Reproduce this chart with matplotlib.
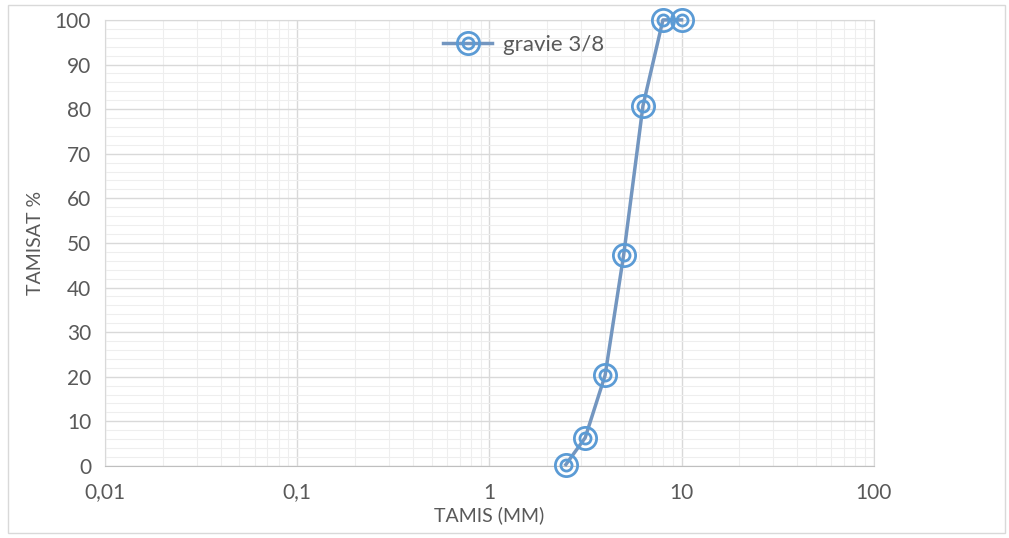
import matplotlib.pyplot as plt
import numpy as np
from matplotlib.ticker import FixedLocator, LogLocator, MultipleLocator, NullFormatter

# courbe granulométrique gravie 3/8
tamis = [2.5, 3.15, 4.0, 5.0, 6.3, 8.0, 10.0]
tamisat = [0.3, 6.3, 20.3, 47.4, 80.8, 100.0, 100.0]

x_ticks = [0.01, 0.1, 1, 10, 100]
x_labels = ['0,01', '0,1', '1', '10', '100']

plt.rcParams['font.family'] = ['Lato', 'DejaVu Sans']
gris = '#595959'

fig = plt.figure(figsize=(10.09, 5.38), dpi=100)
ax = fig.add_axes([0.104, 0.134, 0.762, 0.829])

ligne = '#7396c0'
bleu = '#5b9bd5'
ax.plot(tamis, tamisat, color=ligne, lw=2.5, zorder=3, clip_on=False)
ax.plot(tamis, tamisat, ls='none', marker='o', ms=16, mfc='none', mec=bleu, mew=2, zorder=4, clip_on=False)
ax.plot(tamis, tamisat, ls='none', marker='o', ms=8, mfc='none', mec=bleu, mew=2, zorder=5, clip_on=False)

# légende faite à la main (ligne + double cercle)
h1, = ax.plot([], [], color=ligne, lw=2.5, marker='o', ms=16, mfc='none', mec=bleu, mew=2)
h2, = ax.plot([], [], ls='none', marker='o', ms=8, mfc='none', mec=bleu, mew=2)
ax.legend([(h1, h2)], ['gravie 3/8'], loc='center', bbox_to_anchor=(0.545, 0.944),
          frameon=False, fontsize=16, labelcolor=gris, handlelength=2.2, handletextpad=0.5)

ax.set_xscale('log')
ax.set_xlim(0.01, 100)
ax.set_ylim(0, 100)
ax.xaxis.set_major_locator(FixedLocator(x_ticks))
ax.set_xticklabels(x_labels)
ax.xaxis.set_minor_locator(LogLocator(base=10, subs=np.arange(2, 10)))
ax.xaxis.set_minor_formatter(NullFormatter())
ax.yaxis.set_major_locator(MultipleLocator(10))
ax.yaxis.set_minor_locator(MultipleLocator(2))

ax.grid(which='major', color='#d9d9d9', lw=1)
ax.grid(which='minor', color='#eeeeee', lw=0.8)
ax.set_axisbelow(True)
ax.tick_params(which='both', length=0, labelsize=15, labelcolor=gris)
ax.tick_params(axis='x', pad=12)
ax.tick_params(axis='y', pad=10)
for s in ax.spines.values():
    s.set_color('#d9d9d9')
ax.spines['bottom'].set_color('#bfbfbf')

ax.set_xlabel('TAMIS (MM)', fontsize=14, color=gris, labelpad=3)
ax.set_ylabel('TAMISAT %', fontsize=14, color=gris, labelpad=8)

# cadre du graphique
fig.patches.append(plt.Rectangle((0.008, 0.01), 0.988, 0.98, transform=fig.transFigure,
                                 fill=False, ec='#d9d9d9', lw=1))

fig.savefig('out.png', dpi=100)
